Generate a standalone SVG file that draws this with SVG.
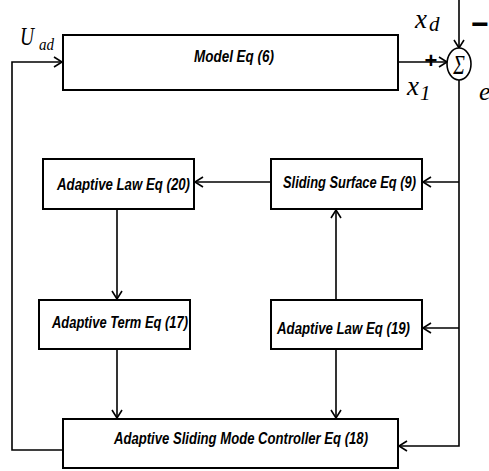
<svg xmlns="http://www.w3.org/2000/svg" width="489" height="471" viewBox="0 0 489 471">
<defs>
<marker id="arr" markerUnits="userSpaceOnUse" markerWidth="12" markerHeight="12" refX="9" refY="6" orient="auto">
<path d="M1,1 L9,6 L1,11" fill="none" stroke="#000" stroke-width="1.6"/>
</marker>
</defs>
<style>
.box{fill:#fff;stroke:#000;stroke-width:2}
.lbl{font-family:"Liberation Sans",Arial,sans-serif;font-weight:bold;font-style:italic;font-size:16px;fill:#000}
.math{font-family:"Liberation Serif","Times New Roman",serif;font-style:italic;fill:#000}
.ln{fill:none;stroke:#000;stroke-width:1.6}
.ln.a{marker-end:url(#arr)}
</style>
<rect width="489" height="471" fill="#fff"/>
<g id="connectors">
<path class="ln a" d="M398,62 H447"/>
<path class="ln a" d="M459,0 V48"/>
<path class="ln a" d="M459,80 V446 H399"/>
<path class="ln a" d="M459,182 H423"/>
<path class="ln a" d="M459,328 H423"/>
<path class="ln a" d="M271,182 H195"/>
<path class="ln a" d="M117,209 V299"/>
<path class="ln a" d="M117,349 V418"/>
<path class="ln a" d="M336,300 V210"/>
<path class="ln a" d="M336,349 V418"/>
<path class="ln a" d="M63,450 H12 V62 H62"/>
</g>
<g id="model">
<rect class="box" x="63" y="35" width="335" height="55"/>
<text class="lbl" x="194" y="62" font-size="15" textLength="80" lengthAdjust="spacingAndGlyphs">Model  Eq (6)</text>
</g>
<g id="sum">
<ellipse cx="459" cy="64" rx="12" ry="16" fill="#fff" stroke="#000" stroke-width="1.6"/>
<text class="math" x="459" y="74" font-size="28" font-style="normal" text-anchor="middle" transform="translate(459 0) scale(0.7 1) translate(-459 0)">Σ</text>
</g>
<g id="adaptive-law-20">
<rect class="box" x="43" y="159" width="151" height="50"/>
<text class="lbl" x="57" y="190" textLength="133" lengthAdjust="spacingAndGlyphs">Adaptive Law  Eq (20)</text>
</g>
<g id="sliding-surface">
<rect class="box" x="271" y="159" width="151" height="50"/>
<text class="lbl" x="283" y="188" textLength="133" lengthAdjust="spacingAndGlyphs">Sliding Surface Eq (9)</text>
</g>
<g id="adaptive-term">
<rect class="box" x="39" y="300" width="151" height="49"/>
<text class="lbl" x="52" y="328" textLength="136" lengthAdjust="spacingAndGlyphs">Adaptive Term Eq (17)</text>
</g>
<g id="adaptive-law-19">
<rect class="box" x="271" y="300" width="151" height="49"/>
<text class="lbl" x="277" y="334" textLength="133" lengthAdjust="spacingAndGlyphs">Adaptive Law  Eq (19)</text>
</g>
<g id="controller">
<rect class="box" x="63" y="419" width="335" height="49"/>
<text class="lbl" x="114" y="444" font-size="17" textLength="254" lengthAdjust="spacingAndGlyphs">Adaptive Sliding Mode Controller  Eq (18)</text>
</g>
<g id="labels">
<text class="math" x="20" y="45" font-size="26" textLength="14" lengthAdjust="spacingAndGlyphs">U</text>
<text class="math" x="39" y="50" font-size="17" textLength="15" lengthAdjust="spacingAndGlyphs">ad</text>
<text class="math" x="415" y="28" font-size="27">x</text>
<text class="math" x="429" y="31" font-size="21">d</text>
<text class="math" x="407" y="95" font-size="27">x</text>
<text class="math" x="420" y="100" font-size="21" font-style="normal">1</text>
<text class="math" x="479" y="100" font-size="26">e</text>
<text x="431" y="68" font-family="Liberation Sans,Arial,sans-serif" font-weight="bold" font-size="22" text-anchor="middle">+</text>
<text x="480" y="34" font-family="Liberation Sans,Arial,sans-serif" font-weight="bold" font-size="30" text-anchor="middle">−</text>
</g>
</svg>
